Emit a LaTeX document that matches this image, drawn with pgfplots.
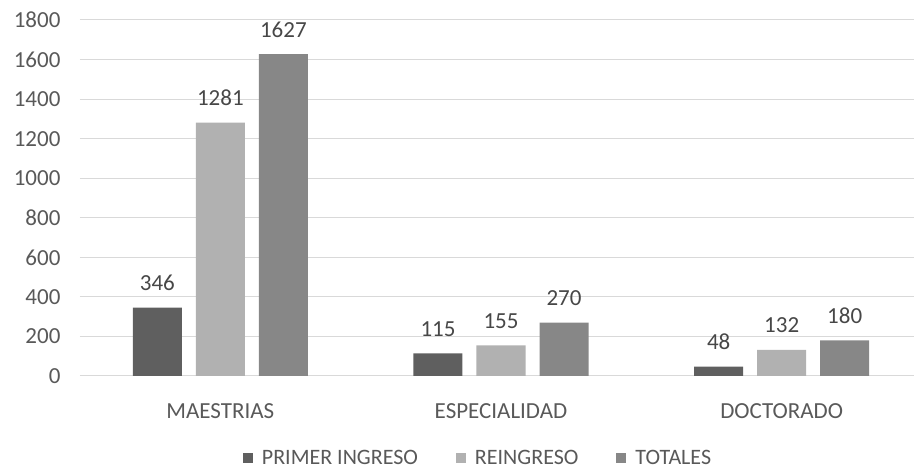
\documentclass[border=0pt]{standalone}
\usepackage{pgfplots}
\pgfplotsset{compat=1.18}
\usepackage{fontspec}
\setmainfont{Carlito}
\definecolor{cPrimer}{HTML}{5F5F5F}
\definecolor{cReing}{HTML}{B1B1B1}
\definecolor{cTot}{HTML}{878787}
\definecolor{txt}{HTML}{595959}
\definecolor{gridc}{HTML}{D9D9D9}
\begin{document}
\begin{tikzpicture}
\begin{axis}[
  scale only axis,
  at={(0,0)}, anchor=south west,
  width=842pt, height=356pt,
  ymin=0, ymax=1800,
  ytick={0,200,...,1800},
  xmin=-0.5, xmax=2.5,
  xtick={0,1,2},
  xticklabels={MAESTRIAS,ESPECIALIDAD,DOCTORADO},
  ybar, bar width=49pt,
  axis line style={draw=none},
  major tick style={draw=none},
  ymajorgrids, grid style={gridc, line width=1pt},
  font=\fontsize{23}{27}\selectfont,
  tick label style={txt},
  /pgf/number format/assume math mode=true,
  /pgf/number format/1000 sep={},
  yticklabel style={anchor=east, xshift=-16pt},
  xticklabel style={anchor=base, yshift=-38pt},
  nodes near coords,
  every node near coord/.append style={color=txt!80!black, anchor=base, yshift=17pt, font=\fontsize{23}{27}\selectfont},
  legend style={at={(0.4727,-0.2303)}, anchor=center, draw=none, legend columns=-1,
    /tikz/every even column/.append style={column sep=36pt},
    /tikz/every odd column/.append style={column sep=7pt},
    text=txt, font=\fontsize{22}{26}\selectfont},
  legend image code/.code={\fill[#1] (0pt,-5pt) rectangle (10pt,5pt);},
]
\addplot[fill=cPrimer, draw=none, bar shift=-63pt] coordinates {(0,346) (1,115) (2,48)};
\addplot[fill=cReing, draw=none, bar shift=0pt] coordinates {(0,1281) (1,155) (2,132)};
\addplot[fill=cTot, draw=none, bar shift=63pt] coordinates {(0,1627) (1,270) (2,180)};
\legend{PRIMER INGRESO, REINGRESO, TOTALES}
\end{axis}
\pgfresetboundingbox
\path (-80pt,-94pt) rectangle (834pt,20pt+356pt);
\end{tikzpicture}
\end{document}
